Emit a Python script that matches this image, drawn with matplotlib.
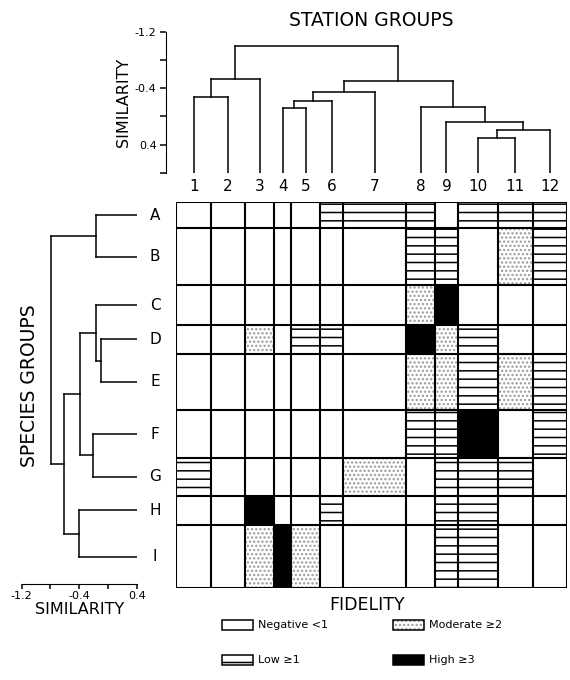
import matplotlib
matplotlib.use("Agg")
import matplotlib.pyplot as plt
from matplotlib.patches import Rectangle
import numpy as np

# station groups (columns) and their widths (stations per group)
stations = ["1", "2", "3", "4", "5", "6", "7", "8", "9", "10", "11", "12"]
station_size = [6, 6, 5, 3, 5, 4, 11, 5, 4, 7, 6, 6]

# species groups (rows) and their heights
species = ["A", "B", "C", "D", "E", "F", "G", "H", "I"]
species_size = [2.8, 6.0, 4.2, 3.0, 6.0, 5.0, 4.0, 3.1, 6.7]

# fidelity class of each cell: 0 negative, 1 low, 2 moderate, 3 high
fidelity = [
    [0, 0, 0, 0, 0, 1, 1, 1, 0, 1, 1, 1],  # A
    [0, 0, 0, 0, 0, 0, 0, 1, 1, 0, 2, 1],  # B
    [0, 0, 0, 0, 0, 0, 0, 2, 3, 0, 0, 0],  # C
    [0, 0, 2, 0, 1, 1, 0, 3, 2, 1, 0, 0],  # D
    [0, 0, 0, 0, 0, 0, 0, 2, 2, 1, 2, 1],  # E
    [0, 0, 0, 0, 0, 0, 0, 1, 1, 3, 0, 1],  # F
    [1, 0, 0, 0, 0, 0, 2, 0, 1, 1, 1, 0],  # G
    [0, 0, 3, 0, 0, 1, 0, 0, 1, 1, 0, 0],  # H
    [0, 0, 2, 3, 2, 0, 0, 0, 1, 1, 0, 0],  # I
]
fidelity_names = ["Negative <1", "Low ≥1", "Moderate ≥2", "High ≥3"]

# dendrogram merges (node a, node b, similarity), new nodes numbered after leaves
station_merges = [
    (0, 1, -0.28), (12, 2, -0.53),
    (3, 4, -0.12), (14, 5, -0.21), (15, 6, -0.34),
    (9, 10, 0.31), (17, 11, 0.20), (8, 18, 0.085), (7, 19, -0.13),
    (16, 20, -0.50), (13, 21, -1.00),
]
species_merges = [
    (0, 1, -0.16),
    (3, 4, -0.10), (2, 10, -0.17), (5, 6, -0.21), (11, 12, -0.39),
    (7, 8, -0.41), (13, 14, -0.61), (9, 15, -0.79),
]

plt.rcParams['font.family'] = 'DejaVu Sans'
plt.rcParams['hatch.linewidth'] = 1.1

styles = {
    0: dict(facecolor="white", hatch=None, edgecolor="white"),
    1: dict(facecolor="white", hatch="--", edgecolor="black"),
    2: dict(facecolor="white", hatch="....", edgecolor="#9a9a9a"),
    3: dict(facecolor="black", hatch=None, edgecolor="black"),
}

fig = plt.figure(figsize=(5.7, 6.8), dpi=100)

# main two-way table
ax = fig.add_axes([0.3096, 0.1346, 0.6851, 0.5684])
xedges = np.concatenate([[0], np.cumsum(station_size)])
yedges = np.concatenate([[0], np.cumsum(species_size)])
xc = (xedges[:-1] + xedges[1:]) / 2
yc = (yedges[:-1] + yedges[1:]) / 2
for i in range(len(species)):
    for j in range(len(stations)):
        st = styles[fidelity[i][j]]
        ax.add_patch(Rectangle((xedges[j], yedges[i]), station_size[j], species_size[i],
                               facecolor=st["facecolor"], hatch=st["hatch"],
                               edgecolor=st["edgecolor"], linewidth=0))
for x in xedges:
    ax.axvline(x, color="black", lw=1.5)
for y in yedges:
    ax.axhline(y, color="black", lw=1.5)
ax.set_xlim(xedges[0], xedges[-1])
ax.set_ylim(yedges[-1], yedges[0])
ax.axis("off")
for lab, x in zip(stations, xc):
    ax.annotate(lab, xy=(x, 0), xytext=(0, 11), textcoords="offset points",
                ha="center", va="center", fontsize=11, annotation_clip=False)
for lab, y in zip(species, yc):
    ax.annotate(lab, xy=(0, y), xytext=(-15.5, 0), textcoords="offset points",
                ha="center", va="center", fontsize=11, annotation_clip=False)


def dendro(ax, pos, leaf_h, merges, top=True):
    pos = list(pos)
    h = [leaf_h] * len(pos)
    for a, b, s in merges:
        for n in (a, b):
            if top:
                ax.plot([pos[n], pos[n]], [h[n], s], color="black", lw=1.1)
            else:
                ax.plot([h[n], s], [pos[n], pos[n]], color="black", lw=1.1)
        if top:
            ax.plot([pos[a], pos[b]], [s, s], color="black", lw=1.1)
        else:
            ax.plot([s, s], [pos[a], pos[b]], color="black", lw=1.1)
        pos.append((pos[a] + pos[b]) / 2)
        h.append(s)


# station dendrogram
axt = fig.add_axes([0.3096, 0.746, 0.6851, 0.2074])
dendro(axt, xc, 0.8, station_merges, top=True)
axt.set_xlim(xedges[0], xedges[-1])
axt.set_ylim(0.8, -1.2)
for s in ["top", "right", "bottom"]:
    axt.spines[s].set_visible(False)
axt.spines["left"].set_position(("outward", 7.8))
axt.set_xticks([])
axt.set_yticks([-1.2, -0.4, 0.4])
axt.set_yticks([-0.8, 0.0, 0.8], minor=True)
axt.set_yticklabels(["-1.2", "-0.4", "0.4"])
axt.tick_params(axis="y", which="both", direction="out", length=4.5, width=1.1,
                labelsize=8, pad=2)
axt.set_ylabel("SIMILARITY", fontsize=11.5, labelpad=3)
axt.patch.set_visible(False)

# species dendrogram
axl = fig.add_axes([0.0381, 0.1346, 0.2018, 0.5684])
dendro(axl, yc, 0.4, species_merges, top=False)
axl.set_ylim(yedges[-1], yedges[0])
axl.set_xlim(-1.2, 0.4)
for s in ["top", "right", "left"]:
    axl.spines[s].set_visible(False)
axl.spines["bottom"].set_position(("axes", 0.0116))
axl.set_yticks([])
axl.set_xticks([-1.2, -0.4, 0.4])
axl.set_xticks([-0.8, 0.0], minor=True)
axl.set_xticklabels(["-1.2", "-0.4", "0.4"])
axl.tick_params(axis="x", which="both", direction="out", length=3.5, width=1.1,
                labelsize=8, pad=1.5)
axl.set_xlabel("SIMILARITY", fontsize=11.5, labelpad=1)
axl.patch.set_visible(False)

# titles and legend in pixel coordinates
ov = fig.add_axes([0, 0, 1, 1])
ov.set_xlim(0, 570)
ov.set_ylim(680, 0)
ov.axis("off")
ov.text(371.5, 20, "STATION GROUPS", ha="center", va="center", fontsize=13.5)
ov.text(30, 386, "SPECIES GROUPS", ha="center", va="center", fontsize=13.5, rotation=90)
ov.text(367.5, 605, "FIDELITY", ha="center", va="center", fontsize=12.5)

box_x = [221.7, 221.7, 392.7, 392.7]
box_y = [620, 655, 620, 655]
for k, name in enumerate(fidelity_names):
    st = styles[k]
    ov.add_patch(Rectangle((box_x[k], box_y[k]), 31.6, 10,
                           facecolor=st["facecolor"], hatch=st["hatch"],
                           edgecolor=st["edgecolor"], linewidth=0))
    ov.add_patch(Rectangle((box_x[k], box_y[k]), 31.6, 10, fill=False,
                           edgecolor="black", linewidth=1.1))
    ov.text(box_x[k] + 36, box_y[k] + 5, name, ha="left", va="center", fontsize=8)

fig.savefig("out.png", dpi=100)
